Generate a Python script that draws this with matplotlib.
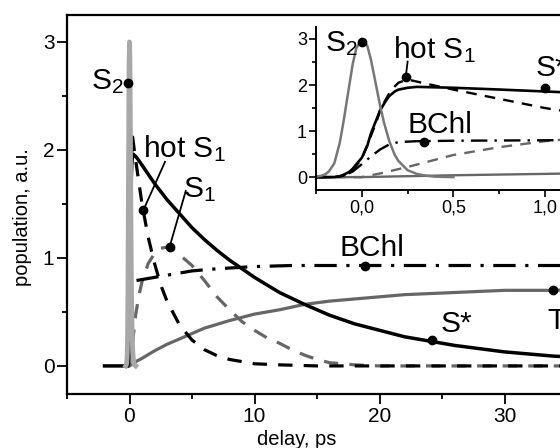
import matplotlib
matplotlib.use("Agg")
import matplotlib.pyplot as plt
from matplotlib.ticker import MultipleLocator, FuncFormatter

plt.rcParams['font.family'] = ['Liberation Sans', 'DejaVu Sans']
plt.rcParams['mathtext.fontset'] = 'custom'
plt.rcParams['mathtext.rm'] = 'Liberation Sans'
plt.rcParams['mathtext.it'] = 'Liberation Sans'

# populations (delay in ps)
t_s2 = [-0.3, -0.25, -0.22, -0.2, -0.18, -0.15, -0.12, -0.1, -0.08, -0.05, -0.03, 0.0, 0.03,
        0.05, 0.08, 0.1, 0.12, 0.15, 0.18, 0.2, 0.25, 0.3, 0.35, 0.4, 0.5]
s2 = [0, 0.01, 0.03, 0.06, 0.12, 0.3, 0.75, 1.2, 1.7, 2.45, 2.8, 3.0, 2.85,
      2.55, 1.95, 1.55, 1.2, 0.78, 0.48, 0.35, 0.15, 0.07, 0.03, 0.01, 0.0]

t_hot = [-0.25, -0.15, -0.1, -0.05, 0.0, 0.05, 0.08, 0.1, 0.13, 0.15, 0.18, 0.2, 0.25, 0.35,
         0.5, 0.75, 1.0, 1.5, 2, 2.5, 3, 4, 5, 6, 7, 8, 10, 12, 15, 20, 30, 40]
hot_s1 = [0, 0, 0.03, 0.15, 0.4, 0.9, 1.2, 1.45, 1.68, 1.82, 1.97, 2.05, 2.12, 2.03,
          1.9, 1.7, 1.5, 1.19, 0.95, 0.75, 0.6, 0.38, 0.24, 0.15, 0.095, 0.06, 0.02, 0.01,
          0.0, 0.0, 0.0, 0.0]

t_sstar = [-2, -0.15, -0.12, -0.1, -0.07, -0.05, -0.03, 0.0, 0.03, 0.05, 0.08, 0.1, 0.13, 0.15,
           0.18, 0.2, 0.25, 0.3, 0.5, 0.7, 1.0, 2, 3, 4, 5, 6, 7, 8, 10, 12, 14, 16, 18, 20, 22,
           24, 26, 28, 30, 32, 34, 36, 38, 40]
s_star = [0, 0, 0.02, 0.05, 0.11, 0.18, 0.28, 0.42, 0.68, 0.95, 1.25, 1.45, 1.65, 1.76,
          1.86, 1.9, 1.94, 1.96, 1.94, 1.91, 1.86, 1.69, 1.54, 1.41, 1.28, 1.17, 1.07, 0.98,
          0.82, 0.68, 0.57, 0.47, 0.39, 0.33, 0.27, 0.23, 0.19, 0.16, 0.13, 0.11, 0.09, 0.08,
          0.06, 0.05]

t_s1 = [-0.25, 0.0, 0.1, 0.25, 0.5, 0.75, 1.0, 1.5, 2, 2.5, 3, 3.5, 4, 5, 6, 7, 8, 9, 10, 11,
        12, 13, 14, 15, 16, 18, 20, 30, 40]
s1 = [0, 0, 0.08, 0.22, 0.48, 0.65, 0.78, 0.95, 1.04, 1.09, 1.1, 1.08, 1.03, 0.93, 0.79, 0.64,
      0.52, 0.41, 0.33, 0.26, 0.21, 0.15, 0.1, 0.06, 0.03, 0.01, 0, 0, 0]

t_bchl = [-0.25, -0.15, -0.1, -0.05, 0.0, 0.05, 0.1, 0.15, 0.2, 0.3, 0.5, 1.0, 2, 3, 4, 5, 7,
          10, 13, 20, 30, 40]
bchl = [0, 0, 0.03, 0.12, 0.28, 0.45, 0.6, 0.71, 0.76, 0.78, 0.79, 0.8, 0.82, 0.84, 0.86, 0.88,
        0.9, 0.92, 0.93, 0.93, 0.93, 0.93]

t_t = [-0.25, 0.0, 0.5, 1, 2, 3, 4, 5, 6, 8, 10, 12, 14, 16, 18, 20, 22, 24, 26, 28, 30, 32,
       34, 36, 38, 40]
triplet = [0, 0, 0.04, 0.07, 0.14, 0.2, 0.25, 0.3, 0.35, 0.42, 0.48, 0.52, 0.57, 0.6, 0.62,
           0.64, 0.66, 0.67, 0.68, 0.69, 0.7, 0.7, 0.7, 0.71, 0.71, 0.71]

GRAY = '#666666'


def draw_curves(ax, lw, s2_color, s2_lw):
    ax.plot(t_t, triplet, color=GRAY, lw=lw)
    ax.plot(t_s1, s1, color=GRAY, lw=lw, ls=(0, (4.5, 3.5)))
    ax.plot(t_bchl, bchl, color='k', lw=lw, ls=(0, (7, 3, 1, 3)))
    ax.plot(t_hot, hot_s1, color='k', lw=lw, ls=(0, (4.5, 3.5)))
    ax.plot(t_sstar, s_star, color='k', lw=lw + 0.2)
    ax.plot(t_s2, s2, color=s2_color, lw=s2_lw)


def label(ax, x, y, text, dot, line=None, size=21.5):
    ax.text(x, y, text, fontsize=size, ha='left', va='baseline', zorder=5)
    if line is not None:
        ax.plot(line[0], line[1], color='k', lw=1.3, zorder=5)
    ax.plot(dot[0], dot[1], 'o', color='k', ms=6, zorder=6)


fig = plt.figure(figsize=(5.6, 4.48), dpi=100)

# main panel, running off the right edge like the original
ax = fig.add_axes([67 / 560, 54 / 448, 562.5 / 560, 379 / 448])
draw_curves(ax, 2.3, '#a8a8a8', 3.5)
ax.set_xlim(-5, 40)
ax.set_ylim(-0.26, 3.25)
ax.xaxis.set_major_locator(MultipleLocator(10))
ax.xaxis.set_minor_locator(MultipleLocator(5))
ax.yaxis.set_major_locator(MultipleLocator(1))
ax.yaxis.set_minor_locator(MultipleLocator(0.5))
ax.tick_params(which='major', direction='out', length=7, width=1.3, labelsize=15, pad=2,
               top=False, right=False)
ax.tick_params(which='minor', direction='out', length=3.5, width=1.3, top=False, right=False)
for sp in ax.spines.values():
    sp.set_linewidth(1.6)
ax.set_xlabel('delay, ps', fontsize=14.5)
ax.set_ylabel('population, a.u.', fontsize=14.5)
ax.xaxis.set_label_coords(0.409, -0.095)
ax.yaxis.set_label_coords(-0.062, 0.467)

label(ax, -3.1, 2.56, 'S$_2$', (-0.1, 2.62))
label(ax, 1.1, 1.93, 'hot S$_1$', (1.1, 1.44), ([2.84, 1.1], [1.89, 1.44]))
label(ax, 4.3, 1.56, 'S$_1$', (3.2, 1.10), ([4.5, 3.2], [1.62, 1.10]))
label(ax, 16.8, 1.02, 'BChl', (18.8, 0.93))
label(ax, 24.9, 0.31, 'S*', (24.2, 0.24))
label(ax, 33.4, 0.34, 'T', (33.9, 0.70))

# inset: first picosecond
ins = fig.add_axes([316 / 560, (448 - 190) / 448, 251 / 560, (190 - 27) / 448])
draw_curves(ins, 1.7, '#777777', 1.8)
ins.set_xlim(-0.25, 1.12)
ins.set_ylim(-0.28, 3.26)
ins.spines['top'].set_visible(False)
ins.spines['right'].set_visible(False)
for sp in ins.spines.values():
    sp.set_linewidth(1.4)
ins.xaxis.set_major_locator(MultipleLocator(0.5))
ins.xaxis.set_minor_locator(MultipleLocator(0.25))
ins.yaxis.set_major_locator(MultipleLocator(1))
ins.yaxis.set_minor_locator(MultipleLocator(0.5))
ins.xaxis.set_major_formatter(FuncFormatter(lambda v, p: f"{v:.1f}".replace('.', ',')))
ins.yaxis.set_major_formatter(FuncFormatter(lambda v, p: f"{v:.0f}"))
ins.tick_params(which='major', direction='out', length=5, width=1.2, labelsize=13, pad=1.5)
ins.tick_params(which='minor', direction='out', length=3, width=1.2)

label(ins, -0.2, 2.73, 'S$_2$', (0.0, 2.94))
label(ins, 0.173, 2.59, 'hot S$_1$', (0.24, 2.18), ([0.25, 0.24], [2.51, 2.18]))
label(ins, 0.95, 2.19, 'S*', (1.0, 1.93))
label(ins, 0.25, 0.965, 'BChl', (0.337, 0.77))

fig.savefig('out.png', dpi=100)
